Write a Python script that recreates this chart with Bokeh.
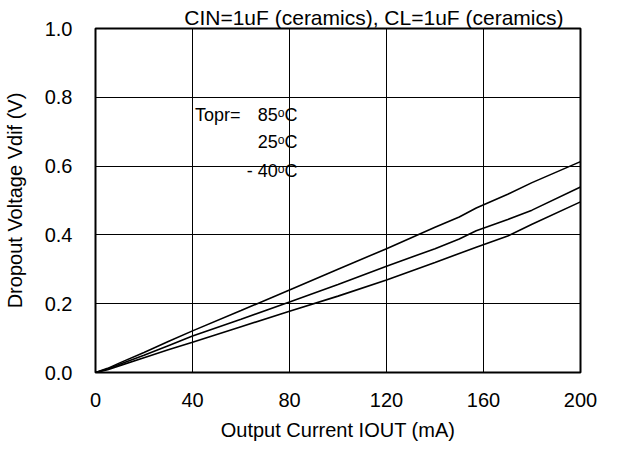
from bokeh.plotting import figure
from bokeh.models import FixedTicker, PrintfTickFormatter, Label, Range1d, Title
from bokeh.embed import file_html
from bokeh.resources import INLINE

# ---- data ----
current_ma = [0, 5, 10, 20, 30, 40, 60, 80, 100, 120, 140, 150, 157, 170, 180, 200]
vdif_85c = [0, 0.012, 0.028, 0.058, 0.090, 0.121, 0.180, 0.240, 0.300, 0.360, 0.422, 0.452, 0.478, 0.518, 0.552, 0.613]
vdif_25c = [0, 0.010, 0.024, 0.050, 0.078, 0.106, 0.155, 0.205, 0.256, 0.309, 0.360, 0.388, 0.412, 0.445, 0.472, 0.539]
vdif_m40c = [0, 0.008, 0.020, 0.043, 0.066, 0.088, 0.133, 0.178, 0.222, 0.269, 0.320, 0.346, 0.364, 0.397, 0.431, 0.496]

x_ticks = [0, 40, 80, 120, 160, 200]
y_ticks = [0.0, 0.2, 0.4, 0.6, 0.8, 1.0]

title_text = "CIN=1uF (ceramics), CL=1uF (ceramics)"
x_label = "Output Current IOUT (mA)"
y_label = "Dropout Voltage Vdif (V)"
topr_text = "Topr="
temp_labels = ["85\u1d52C", "25\u1d52C", "- 40\u1d52C"]

FONT = "Liberation Sans"

p = figure(width=603, height=446, output_backend="svg", toolbar_location=None,
           x_range=Range1d(0, 200), y_range=Range1d(0, 1.0))
p.min_border_left = 95
p.min_border_right = 23
p.min_border_top = 28
p.min_border_bottom = 74
p.background_fill_color = "white"
p.border_fill_color = "white"
p.outline_line_color = "black"
p.outline_line_width = 2

t = Title(text=title_text, align="right", offset=17, standoff=0, text_font=FONT,
          text_font_size="21px", text_font_style="normal", text_color="black")
p.add_layout(t, "above")

for ax in (p.xaxis[0], p.yaxis[0]):
    ax.axis_line_color = None
    ax.major_tick_in = 0
    ax.major_tick_out = 0
    ax.minor_tick_line_color = None
    ax.major_label_text_font = FONT
    ax.major_label_text_font_size = "20px"
    ax.major_label_text_color = "black"
    ax.axis_label_text_font = FONT
    ax.axis_label_text_font_size = "20px"
    ax.axis_label_text_font_style = "normal"
    ax.axis_label_text_color = "black"

p.xaxis.ticker = FixedTicker(ticks=x_ticks)
p.yaxis.ticker = FixedTicker(ticks=y_ticks)
p.yaxis.formatter = PrintfTickFormatter(format="%.1f")
p.xaxis.axis_label = x_label
p.yaxis.axis_label = y_label
p.xaxis.major_label_standoff = 20
p.xaxis.axis_label_standoff = 9
p.yaxis.major_label_standoff = 23
p.yaxis.axis_label_standoff = 16

p.xgrid.ticker = FixedTicker(ticks=x_ticks)
p.ygrid.ticker = FixedTicker(ticks=y_ticks)
for g in (p.xgrid[0], p.ygrid[0]):
    g.grid_line_color = "black"
    g.grid_line_width = 1
    g.grid_line_alpha = 1.0

for ys in (vdif_85c, vdif_25c, vdif_m40c):
    p.line(current_ma, ys, line_color="black", line_width=1.6)

p.add_layout(Label(x=41, y=0.75, text=topr_text, text_font=FONT, text_font_size="18px",
                   text_align="left", text_baseline="middle", text_color="black"))
for txt, yy in zip(temp_labels, [0.75, 0.669, 0.587]):
    p.add_layout(Label(x=83.3, y=yy, text=txt, text_font=FONT, text_font_size="18px",
                       text_align="right", text_baseline="middle", text_color="black"))

open("out.html", "w").write(file_html(p, INLINE))
